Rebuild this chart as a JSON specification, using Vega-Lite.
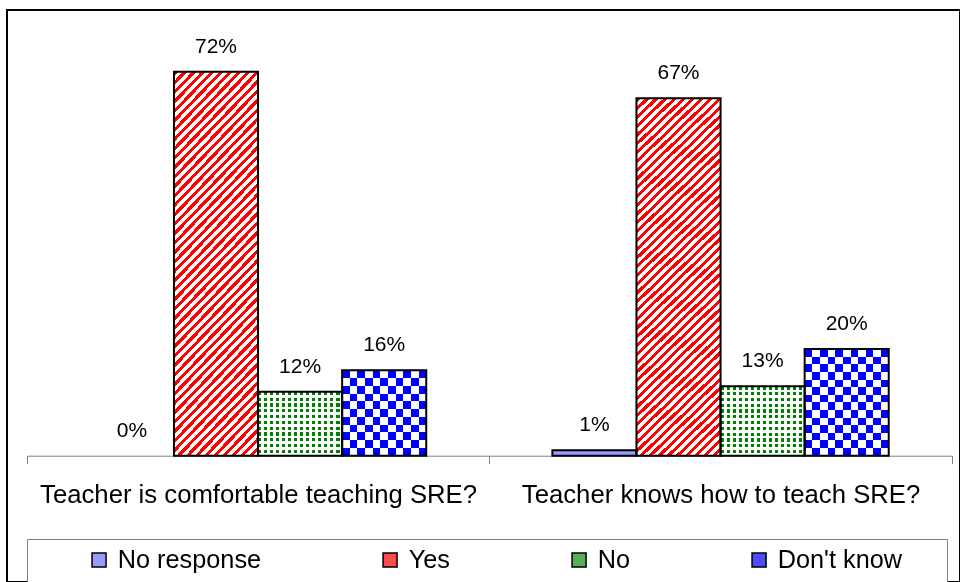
{
  "$schema": "https://vega.github.io/schema/vega-lite/v6.json",
  "width": 953,
  "height": 572,
  "autosize": {"type": "none"},
  "padding": {"left": 7, "top": 10, "right": 0, "bottom": 0},
  "background": "white",
  "config": {"font": "Liberation Sans", "view": {"stroke": "black", "strokeWidth": 2}},
  "data": {
    "values": [
      {"question": "Teacher is comfortable teaching SRE?", "answer": "No response", "pct": 0},
      {"question": "Teacher is comfortable teaching SRE?", "answer": "Yes", "pct": 0.72},
      {"question": "Teacher is comfortable teaching SRE?", "answer": "No", "pct": 0.12},
      {"question": "Teacher is comfortable teaching SRE?", "answer": "Don't know", "pct": 0.16},
      {"question": "Teacher knows how to teach SRE?", "answer": "No response", "pct": 0.01},
      {"question": "Teacher knows how to teach SRE?", "answer": "Yes", "pct": 0.67},
      {"question": "Teacher knows how to teach SRE?", "answer": "No", "pct": 0.13},
      {"question": "Teacher knows how to teach SRE?", "answer": "Don't know", "pct": 0.20}
    ]
  },
  "encoding": {
    "x": {
      "field": "question", "type": "nominal", "sort": null,
      "scale": {"domain": ["Teacher is comfortable teaching SRE?", "Teacher knows how to teach SRE?"], "range": [19.8, 944.8], "paddingInner": 0, "paddingOuter": 0},
      "axis": {"title": null, "orient": "bottom", "offset": -126.3, "domainColor": "#808080", "domainWidth": 1, "tickColor": "#808080", "tickWidth": 1, "tickSize": 8, "tickBand": "extent", "labelAngle": 0, "labelFont": "Liberation Sans", "labelFontSize": 25.7, "labelColor": "black", "labelPadding": 18.5, "labelLimit": 600, "labelOverlap": false, "grid": false}
    },
    "xOffset": {
      "field": "answer", "type": "nominal", "sort": null,
      "scale": {"domain": ["No response", "Yes", "No", "Don't know"], "paddingInner": 0, "paddingOuter": 0.75}
    },
    "y": {
      "field": "pct", "type": "quantitative",
      "scale": {"domain": [0, 0.8], "range": [445.7, 19.04], "nice": false},
      "axis": null
    }
  },
  "layer": [
    {
      "mark": {"type": "bar", "strokeWidth": 0},
      "encoding": {
        "fill": {
          "condition": [
            {"test": "datum.answer === 'Yes'", "value": {"gradient": "linear", "x1": 0, "y1": 0, "x2": 0.2653, "y2": 1.1671, "stops": [
              {"offset":0,"color":"#f00"},{"offset":0.0095,"color":"#f00"},{"offset":0.0095,"color":"#fff"},{"offset":0.02,"color":"#fff"},
              {"offset":0.02,"color":"#f00"},{"offset":0.0295,"color":"#f00"},{"offset":0.0295,"color":"#fff"},{"offset":0.04,"color":"#fff"},
              {"offset":0.04,"color":"#f00"},{"offset":0.0495,"color":"#f00"},{"offset":0.0495,"color":"#fff"},{"offset":0.06,"color":"#fff"},
              {"offset":0.06,"color":"#f00"},{"offset":0.0695,"color":"#f00"},{"offset":0.0695,"color":"#fff"},{"offset":0.08,"color":"#fff"},
              {"offset":0.08,"color":"#f00"},{"offset":0.0895,"color":"#f00"},{"offset":0.0895,"color":"#fff"},{"offset":0.1,"color":"#fff"},
              {"offset":0.1,"color":"#f00"},{"offset":0.1095,"color":"#f00"},{"offset":0.1095,"color":"#fff"},{"offset":0.12,"color":"#fff"},
              {"offset":0.12,"color":"#f00"},{"offset":0.1295,"color":"#f00"},{"offset":0.1295,"color":"#fff"},{"offset":0.14,"color":"#fff"},
              {"offset":0.14,"color":"#f00"},{"offset":0.1495,"color":"#f00"},{"offset":0.1495,"color":"#fff"},{"offset":0.16,"color":"#fff"},
              {"offset":0.16,"color":"#f00"},{"offset":0.1695,"color":"#f00"},{"offset":0.1695,"color":"#fff"},{"offset":0.18,"color":"#fff"},
              {"offset":0.18,"color":"#f00"},{"offset":0.1895,"color":"#f00"},{"offset":0.1895,"color":"#fff"},{"offset":0.2,"color":"#fff"},
              {"offset":0.2,"color":"#f00"},{"offset":0.2095,"color":"#f00"},{"offset":0.2095,"color":"#fff"},{"offset":0.22,"color":"#fff"},
              {"offset":0.22,"color":"#f00"},{"offset":0.2295,"color":"#f00"},{"offset":0.2295,"color":"#fff"},{"offset":0.24,"color":"#fff"},
              {"offset":0.24,"color":"#f00"},{"offset":0.2495,"color":"#f00"},{"offset":0.2495,"color":"#fff"},{"offset":0.26,"color":"#fff"},
              {"offset":0.26,"color":"#f00"},{"offset":0.2695,"color":"#f00"},{"offset":0.2695,"color":"#fff"},{"offset":0.28,"color":"#fff"},
              {"offset":0.28,"color":"#f00"},{"offset":0.2895,"color":"#f00"},{"offset":0.2895,"color":"#fff"},{"offset":0.3,"color":"#fff"},
              {"offset":0.3,"color":"#f00"},{"offset":0.3095,"color":"#f00"},{"offset":0.3095,"color":"#fff"},{"offset":0.32,"color":"#fff"},
              {"offset":0.32,"color":"#f00"},{"offset":0.3295,"color":"#f00"},{"offset":0.3295,"color":"#fff"},{"offset":0.34,"color":"#fff"},
              {"offset":0.34,"color":"#f00"},{"offset":0.3495,"color":"#f00"},{"offset":0.3495,"color":"#fff"},{"offset":0.36,"color":"#fff"},
              {"offset":0.36,"color":"#f00"},{"offset":0.3695,"color":"#f00"},{"offset":0.3695,"color":"#fff"},{"offset":0.38,"color":"#fff"},
              {"offset":0.38,"color":"#f00"},{"offset":0.3895,"color":"#f00"},{"offset":0.3895,"color":"#fff"},{"offset":0.4,"color":"#fff"},
              {"offset":0.4,"color":"#f00"},{"offset":0.4095,"color":"#f00"},{"offset":0.4095,"color":"#fff"},{"offset":0.42,"color":"#fff"},
              {"offset":0.42,"color":"#f00"},{"offset":0.4295,"color":"#f00"},{"offset":0.4295,"color":"#fff"},{"offset":0.44,"color":"#fff"},
              {"offset":0.44,"color":"#f00"},{"offset":0.4495,"color":"#f00"},{"offset":0.4495,"color":"#fff"},{"offset":0.46,"color":"#fff"},
              {"offset":0.46,"color":"#f00"},{"offset":0.4695,"color":"#f00"},{"offset":0.4695,"color":"#fff"},{"offset":0.48,"color":"#fff"},
              {"offset":0.48,"color":"#f00"},{"offset":0.4895,"color":"#f00"},{"offset":0.4895,"color":"#fff"},{"offset":0.5,"color":"#fff"},
              {"offset":0.5,"color":"#f00"},{"offset":0.5095,"color":"#f00"},{"offset":0.5095,"color":"#fff"},{"offset":0.52,"color":"#fff"},
              {"offset":0.52,"color":"#f00"},{"offset":0.5295,"color":"#f00"},{"offset":0.5295,"color":"#fff"},{"offset":0.54,"color":"#fff"},
              {"offset":0.54,"color":"#f00"},{"offset":0.5495,"color":"#f00"},{"offset":0.5495,"color":"#fff"},{"offset":0.56,"color":"#fff"},
              {"offset":0.56,"color":"#f00"},{"offset":0.5695,"color":"#f00"},{"offset":0.5695,"color":"#fff"},{"offset":0.58,"color":"#fff"},
              {"offset":0.58,"color":"#f00"},{"offset":0.5895,"color":"#f00"},{"offset":0.5895,"color":"#fff"},{"offset":0.6,"color":"#fff"},
              {"offset":0.6,"color":"#f00"},{"offset":0.6095,"color":"#f00"},{"offset":0.6095,"color":"#fff"},{"offset":0.62,"color":"#fff"},
              {"offset":0.62,"color":"#f00"},{"offset":0.6295,"color":"#f00"},{"offset":0.6295,"color":"#fff"},{"offset":0.64,"color":"#fff"},
              {"offset":0.64,"color":"#f00"},{"offset":0.6495,"color":"#f00"},{"offset":0.6495,"color":"#fff"},{"offset":0.66,"color":"#fff"},
              {"offset":0.66,"color":"#f00"},{"offset":0.6695,"color":"#f00"},{"offset":0.6695,"color":"#fff"},{"offset":0.68,"color":"#fff"},
              {"offset":0.68,"color":"#f00"},{"offset":0.6895,"color":"#f00"},{"offset":0.6895,"color":"#fff"},{"offset":0.7,"color":"#fff"},
              {"offset":0.7,"color":"#f00"},{"offset":0.7095,"color":"#f00"},{"offset":0.7095,"color":"#fff"},{"offset":0.72,"color":"#fff"},
              {"offset":0.72,"color":"#f00"},{"offset":0.7295,"color":"#f00"},{"offset":0.7295,"color":"#fff"},{"offset":0.74,"color":"#fff"},
              {"offset":0.74,"color":"#f00"},{"offset":0.7495,"color":"#f00"},{"offset":0.7495,"color":"#fff"},{"offset":0.76,"color":"#fff"},
              {"offset":0.76,"color":"#f00"},{"offset":0.7695,"color":"#f00"},{"offset":0.7695,"color":"#fff"},{"offset":0.78,"color":"#fff"},
              {"offset":0.78,"color":"#f00"},{"offset":0.7895,"color":"#f00"},{"offset":0.7895,"color":"#fff"},{"offset":0.8,"color":"#fff"},
              {"offset":0.8,"color":"#f00"},{"offset":0.8095,"color":"#f00"},{"offset":0.8095,"color":"#fff"},{"offset":0.82,"color":"#fff"},
              {"offset":0.82,"color":"#f00"},{"offset":0.8295,"color":"#f00"},{"offset":0.8295,"color":"#fff"},{"offset":0.84,"color":"#fff"},
              {"offset":0.84,"color":"#f00"},{"offset":0.8495,"color":"#f00"},{"offset":0.8495,"color":"#fff"},{"offset":0.86,"color":"#fff"},
              {"offset":0.86,"color":"#f00"},{"offset":0.8695,"color":"#f00"},{"offset":0.8695,"color":"#fff"},{"offset":0.88,"color":"#fff"},
              {"offset":0.88,"color":"#f00"},{"offset":0.8895,"color":"#f00"},{"offset":0.8895,"color":"#fff"},{"offset":0.9,"color":"#fff"},
              {"offset":0.9,"color":"#f00"},{"offset":0.9095,"color":"#f00"},{"offset":0.9095,"color":"#fff"},{"offset":0.92,"color":"#fff"},
              {"offset":0.92,"color":"#f00"},{"offset":0.9295,"color":"#f00"},{"offset":0.9295,"color":"#fff"},{"offset":0.94,"color":"#fff"},
              {"offset":0.94,"color":"#f00"},{"offset":0.9495,"color":"#f00"},{"offset":0.9495,"color":"#fff"},{"offset":0.96,"color":"#fff"},
              {"offset":0.96,"color":"#f00"},{"offset":0.9695,"color":"#f00"},{"offset":0.9695,"color":"#fff"},{"offset":0.98,"color":"#fff"},
              {"offset":0.98,"color":"#f00"},{"offset":0.9895,"color":"#f00"},{"offset":0.9895,"color":"#fff"},{"offset":1,"color":"#fff"}
            ]}},
            {"test": "datum.answer === 'No'", "value": {"gradient": "linear", "x1": 0, "y1": 0, "x2": 1, "y2": 0, "stops": [
              {"offset":0,"color":"#008000"},{"offset":0.04,"color":"#008000"},{"offset":0.04,"color":"#fff"},{"offset":0.0714,"color":"#fff"},
              {"offset":0.0714,"color":"#008000"},{"offset":0.1114,"color":"#008000"},{"offset":0.1114,"color":"#fff"},{"offset":0.1429,"color":"#fff"},
              {"offset":0.1429,"color":"#008000"},{"offset":0.1829,"color":"#008000"},{"offset":0.1829,"color":"#fff"},{"offset":0.2143,"color":"#fff"},
              {"offset":0.2143,"color":"#008000"},{"offset":0.2543,"color":"#008000"},{"offset":0.2543,"color":"#fff"},{"offset":0.2857,"color":"#fff"},
              {"offset":0.2857,"color":"#008000"},{"offset":0.3257,"color":"#008000"},{"offset":0.3257,"color":"#fff"},{"offset":0.3571,"color":"#fff"},
              {"offset":0.3571,"color":"#008000"},{"offset":0.3971,"color":"#008000"},{"offset":0.3971,"color":"#fff"},{"offset":0.4286,"color":"#fff"},
              {"offset":0.4286,"color":"#008000"},{"offset":0.4686,"color":"#008000"},{"offset":0.4686,"color":"#fff"},{"offset":0.5,"color":"#fff"},
              {"offset":0.5,"color":"#008000"},{"offset":0.54,"color":"#008000"},{"offset":0.54,"color":"#fff"},{"offset":0.5714,"color":"#fff"},
              {"offset":0.5714,"color":"#008000"},{"offset":0.6114,"color":"#008000"},{"offset":0.6114,"color":"#fff"},{"offset":0.6429,"color":"#fff"},
              {"offset":0.6429,"color":"#008000"},{"offset":0.6829,"color":"#008000"},{"offset":0.6829,"color":"#fff"},{"offset":0.7143,"color":"#fff"},
              {"offset":0.7143,"color":"#008000"},{"offset":0.7543,"color":"#008000"},{"offset":0.7543,"color":"#fff"},{"offset":0.7857,"color":"#fff"},
              {"offset":0.7857,"color":"#008000"},{"offset":0.8257,"color":"#008000"},{"offset":0.8257,"color":"#fff"},{"offset":0.8571,"color":"#fff"},
              {"offset":0.8571,"color":"#008000"},{"offset":0.8971,"color":"#008000"},{"offset":0.8971,"color":"#fff"},{"offset":0.9286,"color":"#fff"},
              {"offset":0.9286,"color":"#008000"},{"offset":0.9686,"color":"#008000"},{"offset":0.9686,"color":"#fff"},{"offset":1,"color":"#fff"}
            ]}},
            {"test": "datum.answer === \"Don't know\"", "value": {"gradient": "linear", "x1": 0, "y1": 0, "x2": 1, "y2": 0, "stops": [
              {"offset":0,"color":"#00f"},{"offset":0.0909,"color":"#00f"},{"offset":0.0909,"color":"#fff"},{"offset":0.1818,"color":"#fff"},
              {"offset":0.1818,"color":"#00f"},{"offset":0.2727,"color":"#00f"},{"offset":0.2727,"color":"#fff"},{"offset":0.3636,"color":"#fff"},
              {"offset":0.3636,"color":"#00f"},{"offset":0.4545,"color":"#00f"},{"offset":0.4545,"color":"#fff"},{"offset":0.5455,"color":"#fff"},
              {"offset":0.5455,"color":"#00f"},{"offset":0.6364,"color":"#00f"},{"offset":0.6364,"color":"#fff"},{"offset":0.7273,"color":"#fff"},
              {"offset":0.7273,"color":"#00f"},{"offset":0.8182,"color":"#00f"},{"offset":0.8182,"color":"#fff"},{"offset":0.9091,"color":"#fff"},
              {"offset":0.9091,"color":"#00f"},{"offset":1,"color":"#00f"}
            ]}}
          ],
          "value": "#9999ff"
        }
      }
    },
    {
      "transform": [{"filter": "datum.answer === 'No'"}],
      "mark": {"type": "bar", "strokeWidth": 0},
      "encoding": {
        "fill": {
          "condition": {"test": "datum.question === 'Teacher is comfortable teaching SRE?'", "value": {"gradient": "linear", "x1": 0, "y1": 0, "x2": 0, "y2": 1, "stops": [
            {"offset":0,"color":"rgba(255,255,255,0)"},{"offset":0.05,"color":"rgba(255,255,255,0)"},{"offset":0.05,"color":"#fff"},{"offset":0.0909,"color":"#fff"},
            {"offset":0.0909,"color":"rgba(255,255,255,0)"},{"offset":0.1409,"color":"rgba(255,255,255,0)"},{"offset":0.1409,"color":"#fff"},{"offset":0.1818,"color":"#fff"},
            {"offset":0.1818,"color":"rgba(255,255,255,0)"},{"offset":0.2318,"color":"rgba(255,255,255,0)"},{"offset":0.2318,"color":"#fff"},{"offset":0.2727,"color":"#fff"},
            {"offset":0.2727,"color":"rgba(255,255,255,0)"},{"offset":0.3227,"color":"rgba(255,255,255,0)"},{"offset":0.3227,"color":"#fff"},{"offset":0.3636,"color":"#fff"},
            {"offset":0.3636,"color":"rgba(255,255,255,0)"},{"offset":0.4136,"color":"rgba(255,255,255,0)"},{"offset":0.4136,"color":"#fff"},{"offset":0.4545,"color":"#fff"},
            {"offset":0.4545,"color":"rgba(255,255,255,0)"},{"offset":0.5045,"color":"rgba(255,255,255,0)"},{"offset":0.5045,"color":"#fff"},{"offset":0.5455,"color":"#fff"},
            {"offset":0.5455,"color":"rgba(255,255,255,0)"},{"offset":0.5955,"color":"rgba(255,255,255,0)"},{"offset":0.5955,"color":"#fff"},{"offset":0.6364,"color":"#fff"},
            {"offset":0.6364,"color":"rgba(255,255,255,0)"},{"offset":0.6864,"color":"rgba(255,255,255,0)"},{"offset":0.6864,"color":"#fff"},{"offset":0.7273,"color":"#fff"},
            {"offset":0.7273,"color":"rgba(255,255,255,0)"},{"offset":0.7773,"color":"rgba(255,255,255,0)"},{"offset":0.7773,"color":"#fff"},{"offset":0.8182,"color":"#fff"},
            {"offset":0.8182,"color":"rgba(255,255,255,0)"},{"offset":0.8682,"color":"rgba(255,255,255,0)"},{"offset":0.8682,"color":"#fff"},{"offset":0.9091,"color":"#fff"},
            {"offset":0.9091,"color":"rgba(255,255,255,0)"},{"offset":0.9591,"color":"rgba(255,255,255,0)"},{"offset":0.9591,"color":"#fff"},{"offset":1,"color":"#fff"}
          ]}},
          "value": {"gradient": "linear", "x1": 0, "y1": 0, "x2": 0, "y2": 1, "stops": [
            {"offset":0,"color":"rgba(255,255,255,0)"},{"offset":0.046,"color":"rgba(255,255,255,0)"},{"offset":0.046,"color":"#fff"},{"offset":0.0833,"color":"#fff"},
            {"offset":0.0833,"color":"rgba(255,255,255,0)"},{"offset":0.1293,"color":"rgba(255,255,255,0)"},{"offset":0.1293,"color":"#fff"},{"offset":0.1667,"color":"#fff"},
            {"offset":0.1667,"color":"rgba(255,255,255,0)"},{"offset":0.2127,"color":"rgba(255,255,255,0)"},{"offset":0.2127,"color":"#fff"},{"offset":0.25,"color":"#fff"},
            {"offset":0.25,"color":"rgba(255,255,255,0)"},{"offset":0.296,"color":"rgba(255,255,255,0)"},{"offset":0.296,"color":"#fff"},{"offset":0.3333,"color":"#fff"},
            {"offset":0.3333,"color":"rgba(255,255,255,0)"},{"offset":0.3793,"color":"rgba(255,255,255,0)"},{"offset":0.3793,"color":"#fff"},{"offset":0.4167,"color":"#fff"},
            {"offset":0.4167,"color":"rgba(255,255,255,0)"},{"offset":0.4627,"color":"rgba(255,255,255,0)"},{"offset":0.4627,"color":"#fff"},{"offset":0.5,"color":"#fff"},
            {"offset":0.5,"color":"rgba(255,255,255,0)"},{"offset":0.546,"color":"rgba(255,255,255,0)"},{"offset":0.546,"color":"#fff"},{"offset":0.5833,"color":"#fff"},
            {"offset":0.5833,"color":"rgba(255,255,255,0)"},{"offset":0.6293,"color":"rgba(255,255,255,0)"},{"offset":0.6293,"color":"#fff"},{"offset":0.6667,"color":"#fff"},
            {"offset":0.6667,"color":"rgba(255,255,255,0)"},{"offset":0.7127,"color":"rgba(255,255,255,0)"},{"offset":0.7127,"color":"#fff"},{"offset":0.75,"color":"#fff"},
            {"offset":0.75,"color":"rgba(255,255,255,0)"},{"offset":0.796,"color":"rgba(255,255,255,0)"},{"offset":0.796,"color":"#fff"},{"offset":0.8333,"color":"#fff"},
            {"offset":0.8333,"color":"rgba(255,255,255,0)"},{"offset":0.8793,"color":"rgba(255,255,255,0)"},{"offset":0.8793,"color":"#fff"},{"offset":0.9167,"color":"#fff"},
            {"offset":0.9167,"color":"rgba(255,255,255,0)"},{"offset":0.9627,"color":"rgba(255,255,255,0)"},{"offset":0.9627,"color":"#fff"},{"offset":1,"color":"#fff"}
          ]}
        }
      }
    },
    {
      "transform": [{"filter": "datum.answer === \"Don't know\""}],
      "mark": {"type": "bar", "strokeWidth": 0, "blend": "difference"},
      "encoding": {
        "fill": {
          "condition": {"test": "datum.question === 'Teacher is comfortable teaching SRE?'", "value": {"gradient": "linear", "x1": 0, "y1": 0, "x2": 0, "y2": 1, "stops": [
            {"offset":0,"color":"#000"},{"offset":0.0909,"color":"#000"},{"offset":0.0909,"color":"#ff0"},{"offset":0.1818,"color":"#ff0"},
            {"offset":0.1818,"color":"#000"},{"offset":0.2727,"color":"#000"},{"offset":0.2727,"color":"#ff0"},{"offset":0.3636,"color":"#ff0"},
            {"offset":0.3636,"color":"#000"},{"offset":0.4545,"color":"#000"},{"offset":0.4545,"color":"#ff0"},{"offset":0.5455,"color":"#ff0"},
            {"offset":0.5455,"color":"#000"},{"offset":0.6364,"color":"#000"},{"offset":0.6364,"color":"#ff0"},{"offset":0.7273,"color":"#ff0"},
            {"offset":0.7273,"color":"#000"},{"offset":0.8182,"color":"#000"},{"offset":0.8182,"color":"#ff0"},{"offset":0.9091,"color":"#ff0"},
            {"offset":0.9091,"color":"#000"},{"offset":1,"color":"#000"}
          ]}},
          "value": {"gradient": "linear", "x1": 0, "y1": 0, "x2": 0, "y2": 1, "stops": [
            {"offset":0,"color":"#000"},{"offset":0.0714,"color":"#000"},{"offset":0.0714,"color":"#ff0"},{"offset":0.1429,"color":"#ff0"},
            {"offset":0.1429,"color":"#000"},{"offset":0.2143,"color":"#000"},{"offset":0.2143,"color":"#ff0"},{"offset":0.2857,"color":"#ff0"},
            {"offset":0.2857,"color":"#000"},{"offset":0.3571,"color":"#000"},{"offset":0.3571,"color":"#ff0"},{"offset":0.4286,"color":"#ff0"},
            {"offset":0.4286,"color":"#000"},{"offset":0.5,"color":"#000"},{"offset":0.5,"color":"#ff0"},{"offset":0.5714,"color":"#ff0"},
            {"offset":0.5714,"color":"#000"},{"offset":0.6429,"color":"#000"},{"offset":0.6429,"color":"#ff0"},{"offset":0.7143,"color":"#ff0"},
            {"offset":0.7143,"color":"#000"},{"offset":0.7857,"color":"#000"},{"offset":0.7857,"color":"#ff0"},{"offset":0.8571,"color":"#ff0"},
            {"offset":0.8571,"color":"#000"},{"offset":0.9286,"color":"#000"},{"offset":0.9286,"color":"#ff0"},{"offset":1,"color":"#ff0"}
          ]}
        }
      }
    },
    {
      "mark": {"type": "bar", "fillOpacity": 0, "stroke": "black", "strokeWidth": 2},
      "encoding": {
        "strokeOpacity": {"condition": {"test": "datum.pct === 0", "value": 0}, "value": 1},
        "fill": {
          "field": "answer", "type": "nominal", "sort": null,
          "scale": {"domain": ["No response", "Yes", "No", "Don't know"], "range": ["#9999ff", "#ff4d4d", "#5aad5a", "#4d4dff"]},
          "legend": {
            "orient": "none", "legendX": 20, "legendY": 529, "direction": "horizontal", "columns": 4,
            "title": " ", "titleOrient": "left", "titleFontSize": 1, "titlePadding": 51,
            "padding": 8.4, "strokeColor": "#808080", "fillColor": "white",
            "labelFont": "Liberation Sans", "labelFontSize": 25.3, "labelColor": "black", "labelOffset": 6, "labelLimit": 600,
            "columnPadding": 116, "symbolType": "square", "symbolSize": 196, "symbolStrokeColor": "black", "symbolStrokeWidth": 1.5, "symbolOpacity": 1,
            "labelExpr": "datum.label === \"Don't know\" ? datum.label + '\u2800\u2800' : datum.label"
          }
        }
      }
    },
    {
      "mark": {"type": "text", "dy": -19, "baseline": "alphabetic", "fontSize": 21, "font": "Liberation Sans", "color": "black"},
      "encoding": {
        "text": {"field": "pct", "type": "quantitative", "format": ".0%"}
      }
    }
  ]
}
